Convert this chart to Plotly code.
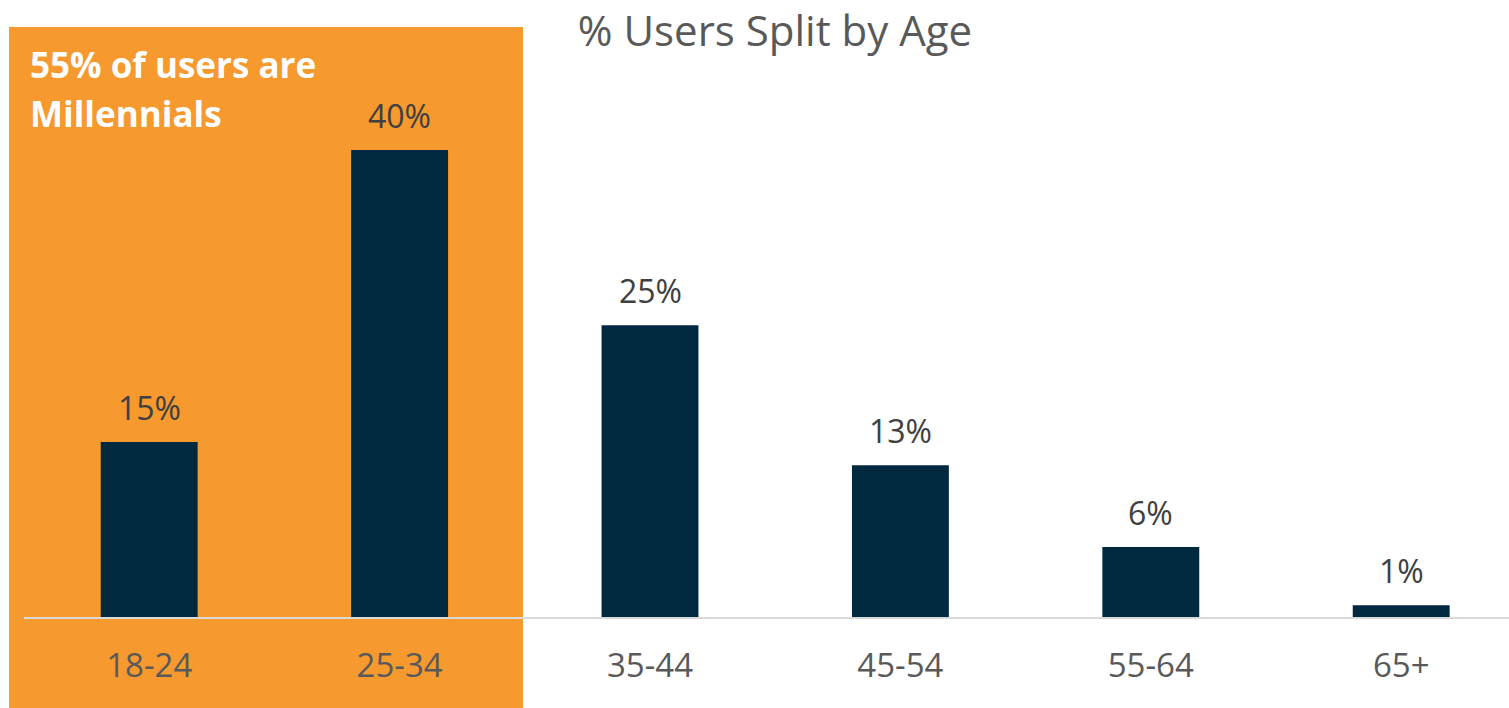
import plotly.graph_objects as go

categories = ["18-24", "25-34", "35-44", "45-54", "55-64", "65+"]
values = [15, 40, 25, 13, 6, 1]
title_text = "% Users Split by Age"
callout_lines = ["55% of users are", "Millennials"]

W, H = 1509, 708
ml, mr, mt, mb = 24, 0, 27, 708 - 617
plot_w = W - ml - mr
plot_h = H - mt - mb

FONT = "Open Sans"
NAVY = "#00283F"
ORANGE = "#F6992E"


def px_x(page_x):
    return (page_x - ml) / plot_w


def px_y(page_y):
    return (H - mb - page_y) / plot_h


fig = go.Figure()
fig.add_trace(go.Bar(
    x=categories, y=values,
    marker=dict(color=NAVY, line=dict(width=0)),
    hoverinfo="skip",
))

for c, v in zip(categories, values):
    fig.add_annotation(
        x=c, y=v, xref="x", yref="y", text=f"{v}%",
        showarrow=False, yanchor="bottom", yshift=11,
        font=dict(family=FONT, size=32, color="#404040"),
    )

# orange highlight panel behind the millennial bars
fig.add_shape(
    type="rect", xref="paper", yref="paper",
    x0=px_x(9), x1=px_x(523),
    y0=px_y(720), y1=px_y(27),
    fillcolor=ORANGE, line=dict(width=0), layer="below",
)

for line, cy in zip(callout_lines, [64, 113]):
    fig.add_annotation(
        xref="paper", yref="paper",
        x=px_x(28), y=px_y(cy),
        xanchor="left", yanchor="middle", align="left",
        text=line, showarrow=False,
        font=dict(family=FONT, size=35, color="white", weight="bold"),
    )

fig.update_layout(
    width=W, height=H,
    margin=dict(l=ml, r=mr, t=mt, b=mb, pad=0),
    paper_bgcolor="white", plot_bgcolor="rgba(0,0,0,0)",
    showlegend=False,
    bargap=0.613,
    title=dict(
        text=title_text, x=775 / W, xanchor="center",
        y=1 - 31 / H, yanchor="middle", yref="container",
        font=dict(family=FONT, size=42, color="#595959"),
    ),
    xaxis=dict(
        range=[-0.5, -0.5 + plot_w / 250.4],
        showgrid=False, zeroline=False,
        showline=True, linecolor="#D9D9D9", linewidth=2,
        ticks="", ticklabelstandoff=18,
        tickfont=dict(family=FONT, size=33, color="#595959"),
    ),
    yaxis=dict(
        range=[0, plot_h / 11.675],
        visible=False, showgrid=False, zeroline=False,
    ),
)

# remove the browser's default 8px body margin so the figure fills the window
fig.write_html(
    "out.html",
    config={"displayModeBar": False},
    post_script="document.body.style.margin='0';",
)
